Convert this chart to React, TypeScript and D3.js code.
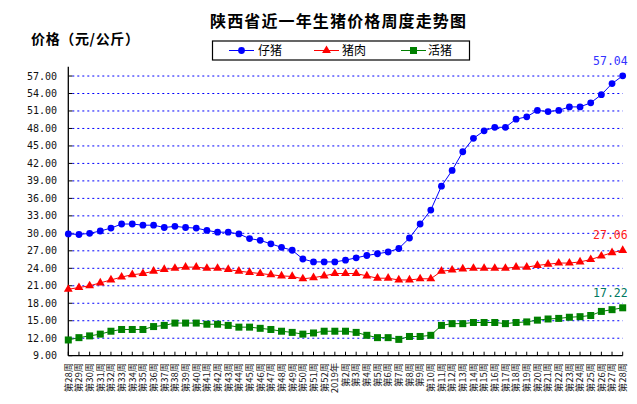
import React from 'react';
import * as d3 from 'd3';

// week labels: 2018 wk28..52, then 2019 wk1..28
const weeks: string[] = [
  '第28周', '第29周', '第30周', '第31周', '第32周', '第33周', '第34周', '第35周', '第36周',
  '第37周', '第38周', '第39周', '第40周', '第41周', '第42周', '第43周', '第44周', '第45周',
  '第46周', '第47周', '第48周', '第49周', '第50周', '第51周', '第52周', '2019年',
  '第2周', '第3周', '第4周', '第5周', '第6周', '第7周', '第8周', '第9周', '第10周',
  '第11周', '第12周', '第13周', '第14周', '第15周', '第16周', '第17周', '第18周', '第19周',
  '第20周', '第21周', '第22周', '第23周', '第24周', '第25周', '第26周', '第27周', '第28周',
];

const piglet: number[] = [
  29.9, 29.8, 30.0, 30.4, 30.9, 31.6, 31.6, 31.4, 31.4, 31.0, 31.2, 31.0, 30.9, 30.5, 30.2,
  30.2, 29.9, 29.1, 28.8, 28.2, 27.6, 27.1, 25.6, 25.1, 25.1, 25.1, 25.4, 25.8, 26.2, 26.5,
  26.8, 27.4, 29.2, 31.6, 34.0, 38.1, 40.8, 44.0, 46.3, 47.6, 48.2, 48.2, 49.6, 50.0, 51.1,
  50.9, 51.1, 51.7, 51.7, 52.4, 53.8, 55.7, 57.04,
];

const pork: number[] = [
  20.4, 20.7, 21.0, 21.5, 22.0, 22.5, 22.9, 23.1, 23.5, 23.8, 24.0, 24.2, 24.2, 24.0, 24.0,
  23.8, 23.5, 23.3, 23.1, 22.9, 22.7, 22.6, 22.2, 22.4, 22.7, 23.1, 23.1, 23.1, 22.7, 22.3,
  22.3, 22.0, 22.0, 22.2, 22.2, 23.5, 23.7, 23.9, 24.0, 24.0, 24.0, 24.0, 24.2, 24.2, 24.5,
  24.7, 24.9, 24.9, 25.1, 25.5, 26.1, 26.7, 27.06,
];

const hog: number[] = [
  11.7, 12.1, 12.4, 12.7, 13.2, 13.5, 13.5, 13.5, 14.0, 14.2, 14.6, 14.6, 14.6, 14.4, 14.4,
  14.2, 13.9, 13.9, 13.7, 13.5, 13.2, 13.0, 12.7, 12.9, 13.2, 13.2, 13.2, 13.0, 12.5, 12.1,
  12.1, 11.8, 12.3, 12.3, 12.5, 14.2, 14.5, 14.5, 14.7, 14.7, 14.7, 14.5, 14.7, 14.8, 15.1,
  15.3, 15.4, 15.6, 15.7, 15.9, 16.6, 16.9, 17.22,
];

const yTicks: number[] = [9, 12, 15, 18, 21, 24, 27, 30, 33, 36, 39, 42, 45, 48, 51, 54, 57];

const cjk = '"Noto Sans CJK SC", "Noto Sans", sans-serif';
const mono = '"DejaVu Sans Mono", "Liberation Mono", monospace';

const W = 637;
const H = 404;
const left = 68.3;
const right = 622.7;
const top = 66.7;
const bottom = 355.7;

type Marker = 'circle' | 'triangle' | 'square';

const series: { name: string; values: number[]; color: string; labelColor: string; marker: Marker }[] = [
  { name: '仔猪', values: piglet, color: '#0000ff', labelColor: '#3333ff', marker: 'circle' },
  { name: '猪肉', values: pork, color: '#ff0000', labelColor: '#ff2020', marker: 'triangle' },
  { name: '活猪', values: hog, color: '#008000', labelColor: '#007860', marker: 'square' },
];

function markerShape(m: Marker, x: number, y: number, color: string, key: React.Key) {
  if (m === 'circle') return <circle key={key} cx={x} cy={y} r={3.4} fill={color} />;
  if (m === 'square') return <rect key={key} x={x - 3.5} y={y - 3.5} width={7} height={7} fill={color} />;
  const sym = d3.symbol().type(d3.symbolTriangle).size(34)();
  return <path key={key} d={sym || ''} transform={`translate(${x},${y})`} fill={color} />;
}

export default function App() {
  const x = d3.scaleLinear().domain([0, weeks.length - 1]).range([left, right]);
  const y = d3.scaleLinear().domain([9, 58.6]).range([bottom, top]);

  const line = d3.line<number>().x((_, i) => x(i)).y(d => y(d));

  const legendItems = [
    { lx: 229, tx: 258 },
    { lx: 314, tx: 342 },
    { lx: 401, tx: 428 },
  ];

  return (
    <svg
      width={W}
      height={H}
      viewBox={`0 0 ${W} ${H}`}
      style={{ position: 'absolute', left: 0, top: 0, background: '#fff' }}
    >
      {/* title */}
      <text x={210} y={27} fontFamily={cjk} fontSize={16} fontWeight="bold" textLength={256} lengthAdjust="spacing">
        陕西省近一年生猪价格周度走势图
      </text>
      <text x={31} y={44} fontFamily={cjk} fontSize={14} fontWeight="bold" textLength={108} lengthAdjust="spacing">
        价格（元/公斤）
      </text>

      {/* legend */}
      <rect x={212.5} y={41} width={257} height={19} fill="#fff" stroke="#000" strokeWidth={1.2} />
      {series.map((s, i) => (
        <g key={s.name}>
          <line x1={legendItems[i].lx} x2={legendItems[i].lx + 25} y1={50.5} y2={50.5} stroke={s.color} strokeWidth={1} />
          {markerShape(s.marker, legendItems[i].lx + 12.5, 50.5, s.color, 'm')}
          <text x={legendItems[i].tx} y={55} fontFamily={cjk} fontSize={12}>{s.name}</text>
        </g>
      ))}

      {/* grid */}
      {yTicks.slice(1).map(t => (
        <line key={t} x1={left + 4} x2={right} y1={y(t)} y2={y(t)} stroke="#0000ff" strokeWidth={1} strokeDasharray="2,3" />
      ))}

      {/* y axis */}
      <line x1={left} x2={left} y1={top} y2={bottom} stroke="#000" strokeWidth={1.3} />
      {yTicks.map(t => (
        <g key={t}>
          <line x1={left} x2={left + 4} y1={y(t)} y2={y(t)} stroke="#000" />
          <text x={57} y={y(t)} dy="0.35em" textAnchor="end" fontFamily={mono} fontSize={10} fill="#111">
            {t.toFixed(2)}
          </text>
        </g>
      ))}

      {/* x axis */}
      <line x1={left} x2={right} y1={bottom} y2={bottom} stroke="#000" strokeWidth={1.3} />
      {weeks.map((w, i) => (
        <g key={i}>
          <line x1={x(i)} x2={x(i)} y1={bottom} y2={bottom - 4} stroke="#000" />
          <text
            transform={`translate(${x(i)},${bottom + 7}) rotate(-90)`}
            dy="0.35em"
            textAnchor="end"
            fontFamily={cjk}
            fontSize={9.5}
            fill="#222"
          >
            {w}
          </text>
        </g>
      ))}

      {/* series */}
      {series.map(s => (
        <g key={s.name}>
          <path d={line(s.values) || ''} fill="none" stroke={s.color} strokeWidth={1} />
          {s.values.map((v, i) => markerShape(s.marker, x(i), y(v), s.color, i))}
          <text
            x={x(s.values.length - 1) + 5}
            y={y(s.values[s.values.length - 1]) - 11}
            textAnchor="end"
            fontFamily={mono}
            fontSize={11.5}
            fill={s.labelColor}
          >
            {s.values[s.values.length - 1].toFixed(2)}
          </text>
        </g>
      ))}
    </svg>
  );
}
